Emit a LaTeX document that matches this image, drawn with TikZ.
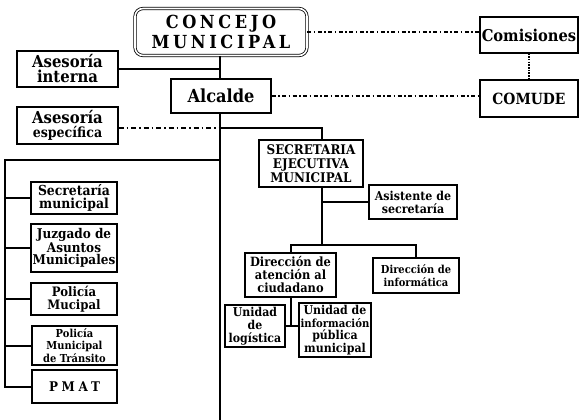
\documentclass[tikz,border=0pt]{standalone}
\usepackage{fontspec}
\setmainfont{DejaVu Serif}[FakeStretch=0.9]
\newcommand{\fsz}[2]{\fontsize{#1}{#2}\selectfont}
\begin{document}
\begin{tikzpicture}[x=1pt,y=-1pt,
  box/.style={draw, line width=1.1pt, inner sep=0pt, align=center, font=\bfseries},
  conn/.style={line width=2pt},
  spine/.style={line width=2.6pt},
  dashdot/.style={line width=1.5pt, dash pattern=on 4pt off 2.5pt on 1.5pt off 2.5pt},
  dashdotb/.style={line width=2pt, dash pattern=on 5pt off 3pt on 1.5pt off 3pt},
  dotv/.style={line width=1.5pt, dash pattern=on 1.5pt off 1.2pt}]
\useasboundingbox[fill=white] (0,0) rectangle (582,420);
% nodes
\node[box, double, double distance=1.6pt, line width=0.8pt, rounded corners=8pt,
      minimum width=172pt, minimum height=47pt,
      font=\bfseries\fsz{18}{20}\addfontfeature{LetterSpace=20}] (concejo) at (221,32) {CONCEJO\\MUNICIPAL};
\node[box, minimum width=101pt, minimum height=36pt, font=\bfseries\fsz{16.5}{15}] (intern) at (67.5,69) {Asesoría\\interna};
\node[box, minimum width=100pt, minimum height=34pt, font=\bfseries\fsz{18}{18}] (alcalde) at (221,96) {Alcalde};
\node[box, minimum width=101pt, minimum height=37pt, font=\bfseries\fsz{16.5}{14}] (espec) at (67.5,125.5) {Asesoría\\{\fsz{14}{14}específica}};
\node[box, minimum width=98pt, minimum height=36pt, font=\bfseries\fsz{16.3}{18}] (comis) at (529,35) {Comisiones};
\node[box, minimum width=98pt, minimum height=37pt, font=\bfseries\fsz{15.4}{18}] (comude) at (529,98.5) {COMUDE};
\node[box, minimum width=86pt, minimum height=32pt, font=\bfseries\fsz{13.8}{12.5}] (secm) at (74,198) {Secretaría\\municipal};
\node[box, minimum width=86pt, minimum height=48pt, font=\bfseries\fsz{13.4}{12}] (juzg) at (74,248) {Juzgado de\\Asuntos\\Municipales};
\node[box, minimum width=86pt, minimum height=32pt, font=\bfseries\fsz{13}{12.5}] (polic) at (74,299) {Policía\\Mucipal};
\node[box, minimum width=85pt, minimum height=39pt, font=\bfseries\fsz{11}{12.3}] (trans) at (74.5,345.5) {Policía\\Municipal\\de Tránsito};
\node[box, minimum width=85pt, minimum height=33pt, font=\bfseries\fsz{13.3}{14}\addfontfeature{LetterSpace=28}] (pmat) at (74.5,386.5) {PMAT};
\node[box, minimum width=104pt, minimum height=47pt, font=\bfseries\fsz{13.3}{14}] (sem) at (311,163.5) {SECRETARIA\\EJECUTIVA\\MUNICIPAL};
\node[box, minimum width=88pt, minimum height=34pt, font=\bfseries\fsz{12.3}{13}] (asist) at (413,202) {Asistente de\\secretaría};
\node[box, minimum width=91pt, minimum height=44pt, font=\bfseries\fsz{12.7}{13}] (datc) at (290.5,275) {Dirección de\\atención al\\ciudadano};
\node[box, minimum width=86pt, minimum height=35pt, font=\bfseries\fsz{11}{13}] (dinf) at (416,275.5) {Dirección de\\informática};
\node[box, minimum width=60pt, minimum height=42pt, font=\bfseries\fsz{12.2}{13}] (ulog) at (255,326) {Unidad\\de\\logística};
\node[box, minimum width=72pt, minimum height=54pt, font=\bfseries\fsz{12.2}{12.5}] (uinf) at (335,330) {Unidad de\\{\fsz{11.2}{12.5}información}\\pública\\municipal};
% coordinates
\coordinate (spinebot) at (220,420);
\coordinate (j1) at (220,128);
\coordinate (j2) at (220,160);
\coordinate (lb) at (5,160);
\coordinate (semx) at (322,187);
\coordinate (j3) at (322,245);
\coordinate (semtop) at (322,140);
% spine
\draw[spine] (concejo.south -| j1) -- (alcalde.north -| j1);
\draw[spine] (alcalde.south -| j1) -- (spinebot);
\draw[conn] (intern.east) -- (intern.east -| j1);
\draw[dashdotb] (espec.east |- j1) -- (j1);
\draw[conn] (j1) -| (semtop);
\draw[conn] (j2) -- (lb) -- (lb |- pmat.west) -- (pmat.west);
\foreach \n in {secm,juzg,polic,trans}{\draw[conn] (lb |- \n.west) -- (\n.west);}
\draw[dashdot] (concejo.east) -- (comis.west |- concejo.east);
\draw[dashdot] (alcalde.east) -- (comude.west |- alcalde.east);
\draw[dotv] (comis.south) -- (comude.north);
\draw[conn] (semx) -- (j3);
\draw[conn] (asist.west) -- (asist.west -| semx);
\draw[conn] (datc.north) |- (j3) -| (dinf.north);
\draw[conn] (datc.south) -- (datc.south |- ulog.east);
\draw[conn] (ulog.east) -- (ulog.east -| uinf.west);
\end{tikzpicture}
\end{document}
